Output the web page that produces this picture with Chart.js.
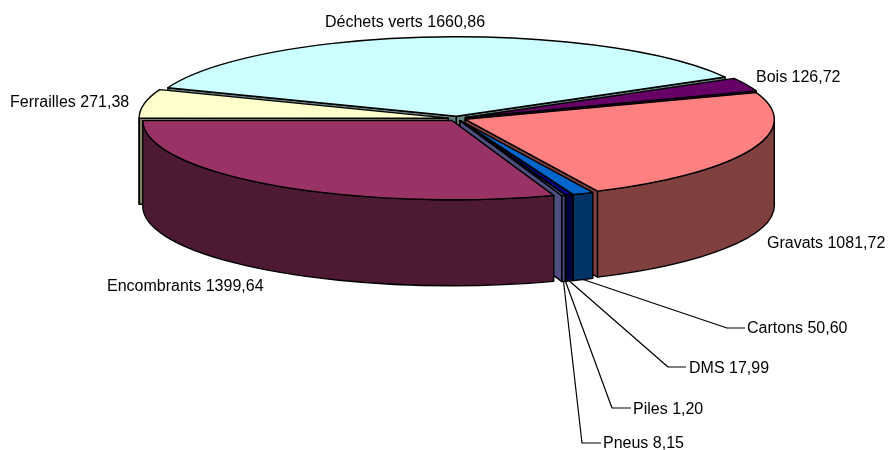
<!DOCTYPE html>
<html>
<head>
<meta charset="utf-8">
<title>Déchets</title>
<script src="https://cdn.jsdelivr.net/npm/chart.js@4"></script>
<style>
  html, body { margin: 0; padding: 0; background: #fff; overflow: hidden; }
  #wrap { width: 888px; height: 450px; }
</style>
</head>
<body>
<div id="wrap"><canvas id="pie" width="888" height="450"></canvas></div>
<script>
// values, clockwise from the back slice
const labels = ['Déchets verts', 'Bois', 'Gravats', 'Cartons', 'DMS', 'Piles', 'Pneus', 'Encombrants', 'Ferrailles'];
const values = [1660.86, 126.72, 1081.72, 50.60, 17.99, 1.20, 8.15, 1399.64, 271.38];
const topColors = ['#CCFFFF', '#660066', '#FF8080', '#0066CC', '#000080', '#CCCCFF', '#9999FF', '#993366', '#FFFFCC'];
const wallColors = ['#668080', '#330033', '#804040', '#003366', '#000040', '#666680', '#4D4D80', '#4D1933', '#808066'];

// back to front, so nearer slices cover the walls behind them
const drawOrder = [0, 1, 2, 3, 4, 5, 6, 8, 7];

// text start, baseline, and the elbow of the leader line (none = no leader)
const labelSpots = [
  { x: 325, y: 27 }, { x: 756, y: 82 }, { x: 767, y: 248 },
  { x: 747, y: 333, elbow: [727, 328], end: 745 },
  { x: 689, y: 373, elbow: [668, 367], end: 686 },
  { x: 633, y: 414, elbow: [612, 408], end: 631 },
  { x: 603, y: 448, elbow: [582, 443], end: 601 },
  { x: 107, y: 291 }, { x: 10, y: 107 }
];

const centerX = 457;
const centerY = 118.5;
const radiusX = 309;
const tilt = 0.257;      // ellipse height / width
const depth = 86;
const explode = 9;

function rimPoint(s, a) {
  return [s.x + radiusX * Math.cos(a), s.y + radiusX * tilt * Math.sin(a)];
}

function shape(ctx, color) {
  ctx.fillStyle = color;
  ctx.fill();
  ctx.strokeStyle = '#000';
  ctx.lineWidth = 1.4;
  ctx.lineJoin = 'round';
  ctx.stroke();
}

function radialWall(ctx, s, a, color) {
  const p = rimPoint(s, a);
  ctx.beginPath();
  ctx.moveTo(s.x, s.y);
  ctx.lineTo(p[0], p[1]);
  ctx.lineTo(p[0], p[1] + depth);
  ctx.lineTo(s.x, s.y + depth);
  ctx.closePath();
  shape(ctx, color);
}

function outerWall(ctx, s, a0, a1, color) {
  const rx = radiusX, ry = radiusX * tilt;
  ctx.beginPath();
  ctx.ellipse(s.x, s.y, rx, ry, 0, a0, a1);
  ctx.ellipse(s.x, s.y + depth, rx, ry, 0, a1, a0, true);
  ctx.closePath();
  shape(ctx, color);
}

const pie3d = {
  id: 'pie3d',
  beforeDatasetsDraw(chart) {
    const ctx = chart.ctx;
    const arcs = chart.getDatasetMeta(0).data;

    const slices = arcs.map(arc => {
      const mid = (arc.startAngle + arc.endAngle) / 2;
      return {
        arc, mid,
        x: centerX + explode * Math.cos(mid),
        y: centerY + explode * tilt * Math.sin(mid)
      };
    });

    drawOrder.forEach(i => {
      const s = slices[i];
      const a0 = s.arc.startAngle, a1 = s.arc.endAngle;

      // inner walls, only the ones turned towards the viewer
      if (Math.cos(a0) < 0) radialWall(ctx, s, a0, wallColors[i]);
      if (Math.cos(a1) > 0) radialWall(ctx, s, a1, wallColors[i]);

      // outer wall, front half of the ellipse only
      const from = Math.max(a0, 0), to = Math.min(a1, Math.PI);
      if (to > from) outerWall(ctx, s, from, to, wallColors[i]);

      // top face: the library's own arc, squashed into the ellipse
      const scale = radiusX / s.arc.outerRadius;
      ctx.save();
      ctx.translate(s.x, s.y);
      ctx.scale(scale, scale * tilt);
      ctx.translate(-s.arc.x, -s.arc.y);
      s.arc.draw(ctx);
      ctx.restore();

      // outline in screen space so the line stays even
      const p0 = rimPoint(s, a0);
      ctx.beginPath();
      ctx.moveTo(s.x, s.y);
      ctx.lineTo(p0[0], p0[1]);
      ctx.ellipse(s.x, s.y, radiusX, radiusX * tilt, 0, a0, a1);
      ctx.closePath();
      ctx.strokeStyle = '#000';
      ctx.lineWidth = 1.4;
      ctx.stroke();
    });

    // labels and leader lines
    ctx.font = '16px "Liberation Sans", Arial, sans-serif';
    ctx.fillStyle = '#000';
    ctx.textAlign = 'left';
    ctx.textBaseline = 'alphabetic';
    labels.forEach((name, i) => {
      const spot = labelSpots[i];
      if (spot.elbow) {
        const s = slices[i];
        const p = rimPoint(s, s.mid);
        ctx.beginPath();
        ctx.moveTo(p[0], p[1] + depth);
        ctx.lineTo(spot.elbow[0], spot.elbow[1]);
        ctx.lineTo(spot.end, spot.elbow[1]);
        ctx.strokeStyle = '#000';
        ctx.lineWidth = 1.2;
        ctx.stroke();
      }
      ctx.fillText(name + ' ' + values[i].toFixed(2).replace('.', ','), spot.x, spot.y);
    });

    return false; // slices are already drawn, skip the default pass
  }
};

new Chart(document.getElementById('pie').getContext('2d'), {
  type: 'pie',
  data: {
    labels: labels,
    datasets: [{
      data: values,
      backgroundColor: topColors,
      borderWidth: 0
    }]
  },
  options: {
    responsive: false,
    animation: false,
    events: [],
    rotation: -69,
    layout: { padding: 0 },
    plugins: {
      legend: { display: false },
      tooltip: { enabled: false }
    }
  },
  plugins: [pie3d]
});
</script>
</body>
</html>
